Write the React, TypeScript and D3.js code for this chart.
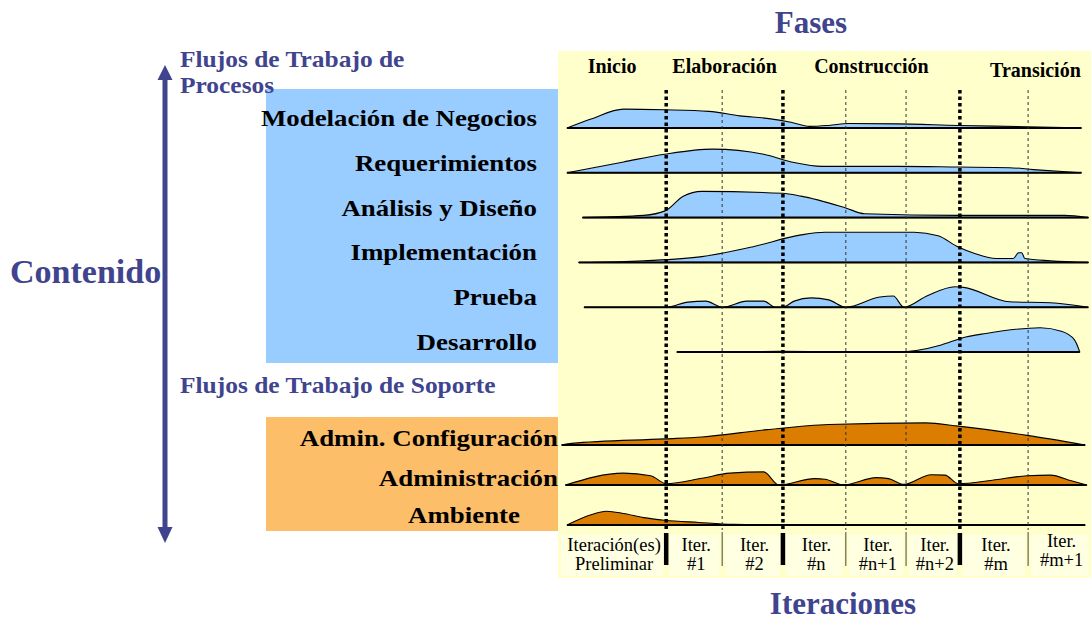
import React, { useEffect, useRef } from "react";
import * as d3 from "d3";

// Phases and iterations on a 0–100 time axis
const phases = ["Inicio", "Elaboración", "Construcción", "Transición"];
const phaseBounds = [0, 20.3, 42.2, 75.4, 100];
const iterationBounds = [0, 20.3, 30.8, 42.2, 54.0, 65.3, 75.4, 88.2, 100];
const iterationTop = ["Iteración(es)", "Iter.", "Iter.", "Iter.", "Iter.", "Iter.", "Iter.", "Iter."];
const iterationBottom = ["Preliminar", "#1", "#2", "#n", "#n+1", "#n+2", "#m", "#m+1"];

const processFlows = [
  "Modelación de Negocios",
  "Requerimientos",
  "Análisis y Diseño",
  "Implementación",
  "Prueba",
  "Desarrollo",
];
const supportFlows = ["Admin. Configuración", "Administración", "Ambiente"];

// effort profiles: [time, effort 0-100]
const modelacion: [number, number][] = [
  [1.7, 0], [6.2, 28], [12.3, 59], [20.0, 57], [28.3, 52], [34.1, 38], [39.2, 30],
  [43.7, 18], [47.2, 5], [50.8, 8], [54.6, 14], [63.6, 13], [75.1, 8], [88.0, 4], [98.2, 0],
];
const requerimientos: [number, number][] = [
  [1.7, 0], [12.3, 34], [20.0, 58], [29.0, 74], [38.6, 58], [44.3, 32], [49.5, 20],
  [63.6, 20], [75.1, 18], [84.7, 16], [89.2, 10], [98.2, 0],
];
const analisis: [number, number][] = [
  [4.6, 0], [16.1, 7], [20.1, 21], [23.5, 67], [27.0, 82], [42.1, 76], [45.6, 67],
  [54.0, 30], [57.5, 12], [75.1, 7], [95.0, 7], [99.5, 0],
];
const implementacion: [number, number][] = [
  [3.9, 0], [16.1, 5], [27.0, 18], [36.6, 49], [45.6, 86], [50.1, 94], [66.8, 94],
  [71.3, 83], [75.1, 48], [78.3, 27], [82.2, 12], [85.4, 12], [86.4, 30], [87.0, 30],
  [87.6, 12], [92.4, 5], [99.5, 0],
];
const prueba: [number, number][] = [
  [4.9, 0], [20.3, 0], [24.4, 16], [27.7, 19], [30.9, 0], [35.4, 19], [38.6, 19],
  [40.8, 0], [42.1, 0], [44.3, 19], [47.5, 29], [50.8, 23], [54.0, 0], [60.4, 32],
  [62.9, 35], [64.9, 0], [69.3, 36], [74.5, 64], [76.1, 62], [84.7, 17], [92.4, 14], [99.5, 0],
];
const desarrollo: [number, number][] = [
  [22.3, 0], [41.8, 2], [63.6, 0], [71.9, 22], [75.8, 44], [80.3, 58], [90.5, 76],
  [94.4, 65], [96.9, 38], [97.9, 0],
];
const adminConfig: [number, number][] = [
  [0.7, 0], [2.6, 5], [20.0, 19], [27.0, 25], [39.2, 48], [50.8, 64], [69.0, 69],
  [75.1, 59], [88.0, 30], [98.9, 0],
];
const administracion: [number, number][] = [
  [1.4, 0], [12.3, 37], [17.4, 29], [20.3, 4], [27.0, 21], [32.2, 37], [38.6, 41],
  [41.4, 0], [48.2, 20], [50.1, 18], [53.6, 0], [59.7, 23], [62.0, 20], [64.9, 2],
  [70.0, 32], [72.6, 31], [75.1, 4], [81.5, 15], [88.0, 29], [92.4, 31], [96.3, 13], [99.2, 0],
];
const ambiente: [number, number][] = [
  [1.7, 0], [6.2, 32], [9.1, 43], [12.3, 36], [16.1, 23], [20.0, 15], [26.4, 8],
  [32.8, 2], [37.9, 1], [98.9, 0],
];

const processProfiles = [modelacion, requerimientos, analisis, implementacion, prueba, desarrollo];
const supportProfiles = [adminConfig, administracion, ambiente];

const BLUE_TEXT = "#40448e";
const SERIF = "'Liberation Serif', 'Times New Roman', serif";

const App: React.FC = () => {
  const svgRef = useRef<SVGSVGElement>(null);

  useEffect(() => {
    if (!svgRef.current) return;
    const svg = d3.select(svgRef.current);
    svg.selectAll("*").remove();

    const width = 1091;
    const height = 620;
    svg.attr("width", width).attr("height", height).style("font-family", SERIF);

    const panelTop = 51;
    const panelBottom = 578;
    const x = d3.scaleLinear().domain([0, 100]).range([558, 1091]);
    const h = d3.scaleLinear().domain([0, 100]).range([0, 32]);
    const yProc = d3.scalePoint<string>().domain(processFlows).range([128, 352]);
    const ySup = d3.scalePoint<string>().domain(supportFlows).range([445, 525]);

    // Background panel and group boxes
    svg.append("rect")
      .attr("x", x(0)).attr("y", panelTop)
      .attr("width", x(100) - x(0)).attr("height", panelBottom - panelTop)
      .attr("fill", "#ffffcc");
    svg.append("rect")
      .attr("x", 266).attr("y", 89).attr("width", x(0) - 266).attr("height", 274)
      .attr("fill", "#99ccff");
    svg.append("rect")
      .attr("x", 266).attr("y", 417).attr("width", x(0) - 266).attr("height", 114)
      .attr("fill", "#fcbe68");

    // Iteration label cells (slightly lighter)
    svg.append("g")
      .selectAll("rect")
      .data(iterationBottom)
      .enter()
      .append("rect")
      .attr("x", (_, i) => x(iterationBounds[i]) + 3)
      .attr("y", 535)
      .attr("width", (_, i) => x(iterationBounds[i + 1]) - x(iterationBounds[i]) - 6)
      .attr("height", 41)
      .attr("fill", "#ffffe2");

    // Titles
    svg.append("text").text("Fases")
      .attr("x", 811).attr("y", 33)
      .attr("text-anchor", "middle")
      .style("font-size", "31px").style("font-weight", "bold").attr("fill", BLUE_TEXT);
    svg.append("text").text("Iteraciones")
      .attr("x", 843).attr("y", 614)
      .attr("text-anchor", "middle")
      .style("font-size", "31px").style("font-weight", "bold").attr("fill", BLUE_TEXT);
    svg.append("text").text("Contenido")
      .attr("x", 10).attr("y", 283)
      .style("font-size", "34px").style("font-weight", "bold").attr("fill", BLUE_TEXT);

    const header = (txt: string, y: number) =>
      svg.append("text").text(txt)
        .attr("transform", `translate(180, ${y}) scale(1.06, 1)`)
        .style("font-size", "24px").style("font-weight", "bold").attr("fill", BLUE_TEXT);
    header("Flujos de Trabajo de", 66.5);
    header("Procesos", 92.5);
    header("Flujos de Trabajo de Soporte", 393);

    // Double-headed arrow
    svg.append("line")
      .attr("x1", 165).attr("x2", 165).attr("y1", 78).attr("y2", 530)
      .attr("stroke", BLUE_TEXT).attr("stroke-width", 5);
    svg.append("path").attr("d", "M165,65 L157.5,80 L172.5,80 Z").attr("fill", BLUE_TEXT);
    svg.append("path").attr("d", "M165,543 L157.5,527 L172.5,527 Z").attr("fill", BLUE_TEXT);

    // Phase names
    svg.append("g")
      .selectAll("text")
      .data(phases)
      .enter()
      .append("text")
      .text((d) => d)
      .attr("x", (_, i) => x((phaseBounds[i] + phaseBounds[i + 1]) / 2) + (i === 3 ? 10 : 0))
      .attr("y", (_, i) => (i === 3 ? 77 : 73))
      .attr("text-anchor", "middle")
      .style("font-size", "20px").style("font-weight", "bold").attr("fill", "#000");

    // Workflow humps
    const area = (base: number) =>
      d3.area<[number, number]>()
        .x((d) => x(d[0]))
        .y0(base)
        .y1((d) => base - h(d[1]))
        .curve(d3.curveMonotoneX);

    const drawRow = (
      profile: [number, number][],
      base: number,
      fill: string
    ) => {
      svg.append("path")
        .attr("d", area(base)(profile) as string)
        .attr("fill", fill)
        .attr("stroke", "#000")
        .attr("stroke-width", 1.1)
        .attr("stroke-linejoin", "round");
      svg.append("line")
        .attr("x1", x(profile[0][0])).attr("x2", x(profile[profile.length - 1][0]))
        .attr("y1", base).attr("y2", base)
        .attr("stroke", "#000").attr("stroke-width", 2);
    };

    processFlows.forEach((name, i) => drawRow(processProfiles[i], yProc(name)!, "#99ccff"));
    supportFlows.forEach((name, i) => drawRow(supportProfiles[i], ySup(name)!, "#db7d00"));

    // Workflow labels
    svg.append("g")
      .selectAll("text")
      .data(processFlows)
      .enter()
      .append("text")
      .text((d) => d)
      .attr("transform", (d) => `translate(537, ${yProc(d)! - 2}) scale(1.12, 1)`)
      .attr("text-anchor", "end")
      .style("font-size", "24px").style("font-weight", "bold").attr("fill", "#000");
    svg.append("g")
      .selectAll("text")
      .data(supportFlows)
      .enter()
      .append("text")
      .text((d) => d)
      .attr("transform", (d, i) =>
        i === 2
          ? `translate(464, ${ySup(d)! - 2.5}) scale(1.12, 1)`
          : `translate(558, ${ySup(d)! + 1.2}) scale(1.12, 1)`
      )
      .attr("text-anchor", (_, i) => (i === 2 ? "middle" : "end"))
      .style("font-size", "24px").style("font-weight", "bold").attr("fill", "#000");

    // Vertical boundaries: phases (thick dotted) and iterations (thin dashed)
    const inner = iterationBounds.slice(1, -1);
    const isPhase = (b: number) => phaseBounds.includes(b);
    svg.append("g")
      .selectAll("line")
      .data(inner)
      .enter()
      .append("line")
      .attr("x1", (d) => x(d)).attr("x2", (d) => x(d))
      .attr("y1", 90).attr("y2", 530)
      .attr("stroke", (d) => (isPhase(d) ? "#000" : "#333"))
      .attr("stroke-width", (d) => (isPhase(d) ? 3.5 : 1))
      .attr("stroke-dasharray", (d) => (isPhase(d) ? "3.5,3" : "3,3"));
    svg.append("g")
      .selectAll("line")
      .data(inner)
      .enter()
      .append("line")
      .attr("x1", (d) => x(d)).attr("x2", (d) => x(d))
      .attr("y1", (d) => (isPhase(d) ? 533 : 532))
      .attr("y2", (d) => (isPhase(d) ? 565 : 566))
      .attr("stroke", (d) => (isPhase(d) ? "#000" : "#444"))
      .attr("stroke-width", (d) => (isPhase(d) ? 4.5 : 1));

    // Iteration labels
    const itLabels = svg.append("g")
      .selectAll("g")
      .data(iterationBottom)
      .enter()
      .append("g")
      .attr("transform", (_, i) => {
        const cx = x((iterationBounds[i] + iterationBounds[i + 1]) / 2) + 2;
        return `translate(${cx}, ${i === 7 ? -4 : 0})`;
      });
    itLabels.append("text")
      .text((_, i) => iterationTop[i])
      .attr("y", 551)
      .attr("text-anchor", "middle")
      .style("font-size", "18.5px").attr("fill", "#000");
    itLabels.append("text")
      .text((d) => d)
      .attr("y", 570)
      .attr("text-anchor", "middle")
      .style("font-size", "18.5px").attr("fill", "#000");
  }, []);

  return (
    <svg
      ref={svgRef}
      style={{ position: "absolute", left: 0, top: 0, background: "#fff" }}
    />
  );
};

export default App;
